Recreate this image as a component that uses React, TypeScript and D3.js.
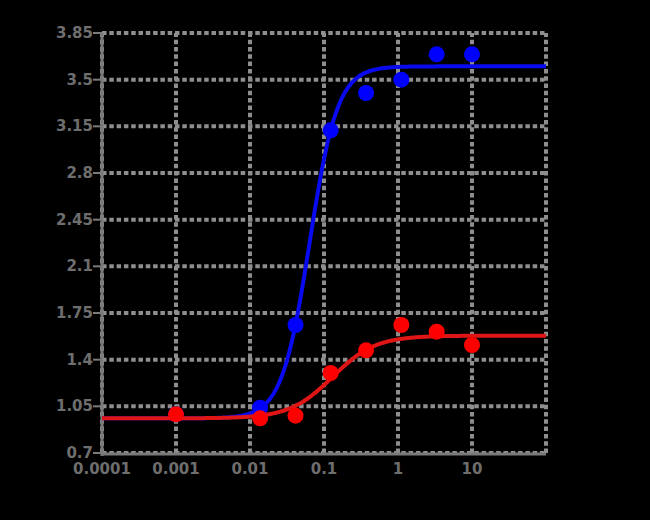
import React from 'react';
import * as d3 from 'd3';

const concentrations = [0.001, 0.0137, 0.0412, 0.123, 0.37, 1.11, 3.33, 10];
const blueValues = [0.99, 1.04, 1.66, 3.12, 3.40, 3.50, 3.69, 3.69];
const redValues = [0.99, 0.96, 0.98, 1.30, 1.47, 1.66, 1.61, 1.51];

// 4-parameter logistic fit parameters [bottom, top, ec50, hill]
const blueFit = [0.96, 3.6, 0.064, 2.3];
const redFit = [0.96, 1.58, 0.13, 1.5];

const yTicks = [0.7, 1.05, 1.4, 1.75, 2.1, 2.45, 2.8, 3.15, 3.5, 3.85];
const xTicks = [0.0001, 0.001, 0.01, 0.1, 1, 10, 100];
const xTickLabels = ['0.0001', '0.001', '0.01', '0.1', '1', '10', ''];

const W = 650, H = 520;
const left = 102, right = 546, top = 33, bottom = 453;

export default function App() {
  const x = d3.scaleLog().domain([0.0001, 100]).range([left, right]);
  const y = d3.scaleLinear().domain([0.7, 3.85]).range([bottom, top]);

  const logistic = (p: number[]) => (c: number) =>
    p[0] + (p[1] - p[0]) / (1 + Math.pow(p[2] / c, p[3]));

  const samples = d3.range(0, 301).map((i) => Math.pow(10, -4 + (6 * i) / 300));
  const line = d3
    .line<number>()
    .x((c) => x(c))
    .curve(d3.curveMonotoneX);

  const bluePath = line.y((c) => y(logistic(blueFit)(c)))(samples) || '';
  const redPath = line.y((c) => y(logistic(redFit)(c)))(samples) || '';

  const gridColor = '#8e8e8e';
  const axisColor = '#7a7a7a';
  const textColor = '#6e6e6e';
  const font = 'DejaVu Sans, sans-serif';

  return (
    <svg width={W} height={H} style={{ position: 'absolute', left: 0, top: 0 }}>
      <rect x={0} y={0} width={W} height={H} fill="#000" />
      {/* grid */}
      {yTicks.map((t) => (
        <line key={'gy' + t} x1={left} x2={right} y1={y(t)} y2={y(t)} stroke={gridColor} strokeWidth={4} strokeDasharray="4.5,2.8" />
      ))}
      {xTicks.map((t) => (
        <line key={'gx' + t} x1={x(t)} x2={x(t)} y1={bottom} y2={top} stroke={gridColor} strokeWidth={4} strokeDasharray="4.5,2.8" />
      ))}
      {/* axes */}
      <line x1={left} x2={left} y1={top} y2={bottom + 3} stroke={axisColor} strokeWidth={3} />
      <line x1={left} x2={right} y1={bottom + 1} y2={bottom + 1} stroke={axisColor} strokeWidth={3} />
      {yTicks.map((t) => (
        <g key={'ty' + t}>
          <line x1={left - 9} x2={left} y1={y(t)} y2={y(t)} stroke={axisColor} strokeWidth={2} />
          <text x={left - 9} y={y(t)} textAnchor="end" dominantBaseline="central" fontFamily={font} fontWeight="bold" fontSize={15} fill={textColor}>
            {String(t)}
          </text>
        </g>
      ))}
      {xTicks.map((t, i) => (
        <text key={'tx' + t} x={x(t)} y={469} textAnchor="middle" dominantBaseline="central" fontFamily={font} fontWeight="bold" fontSize={15} fill={textColor}>
          {xTickLabels[i]}
        </text>
      ))}
      {/* blue series */}
      <path d={bluePath} fill="none" stroke="#0a0aee" strokeWidth={4} />
      {concentrations.map((c, i) => (
        <circle key={'b' + i} cx={x(c)} cy={y(blueValues[i])} r={8} fill="#0000ff" />
      ))}
      {/* red series */}
      <path d={redPath} fill="none" stroke="#e01515" strokeWidth={4} />
      {concentrations.map((c, i) => (
        <circle key={'r' + i} cx={x(c)} cy={y(redValues[i])} r={8} fill="#ff0000" />
      ))}
    </svg>
  );
}
